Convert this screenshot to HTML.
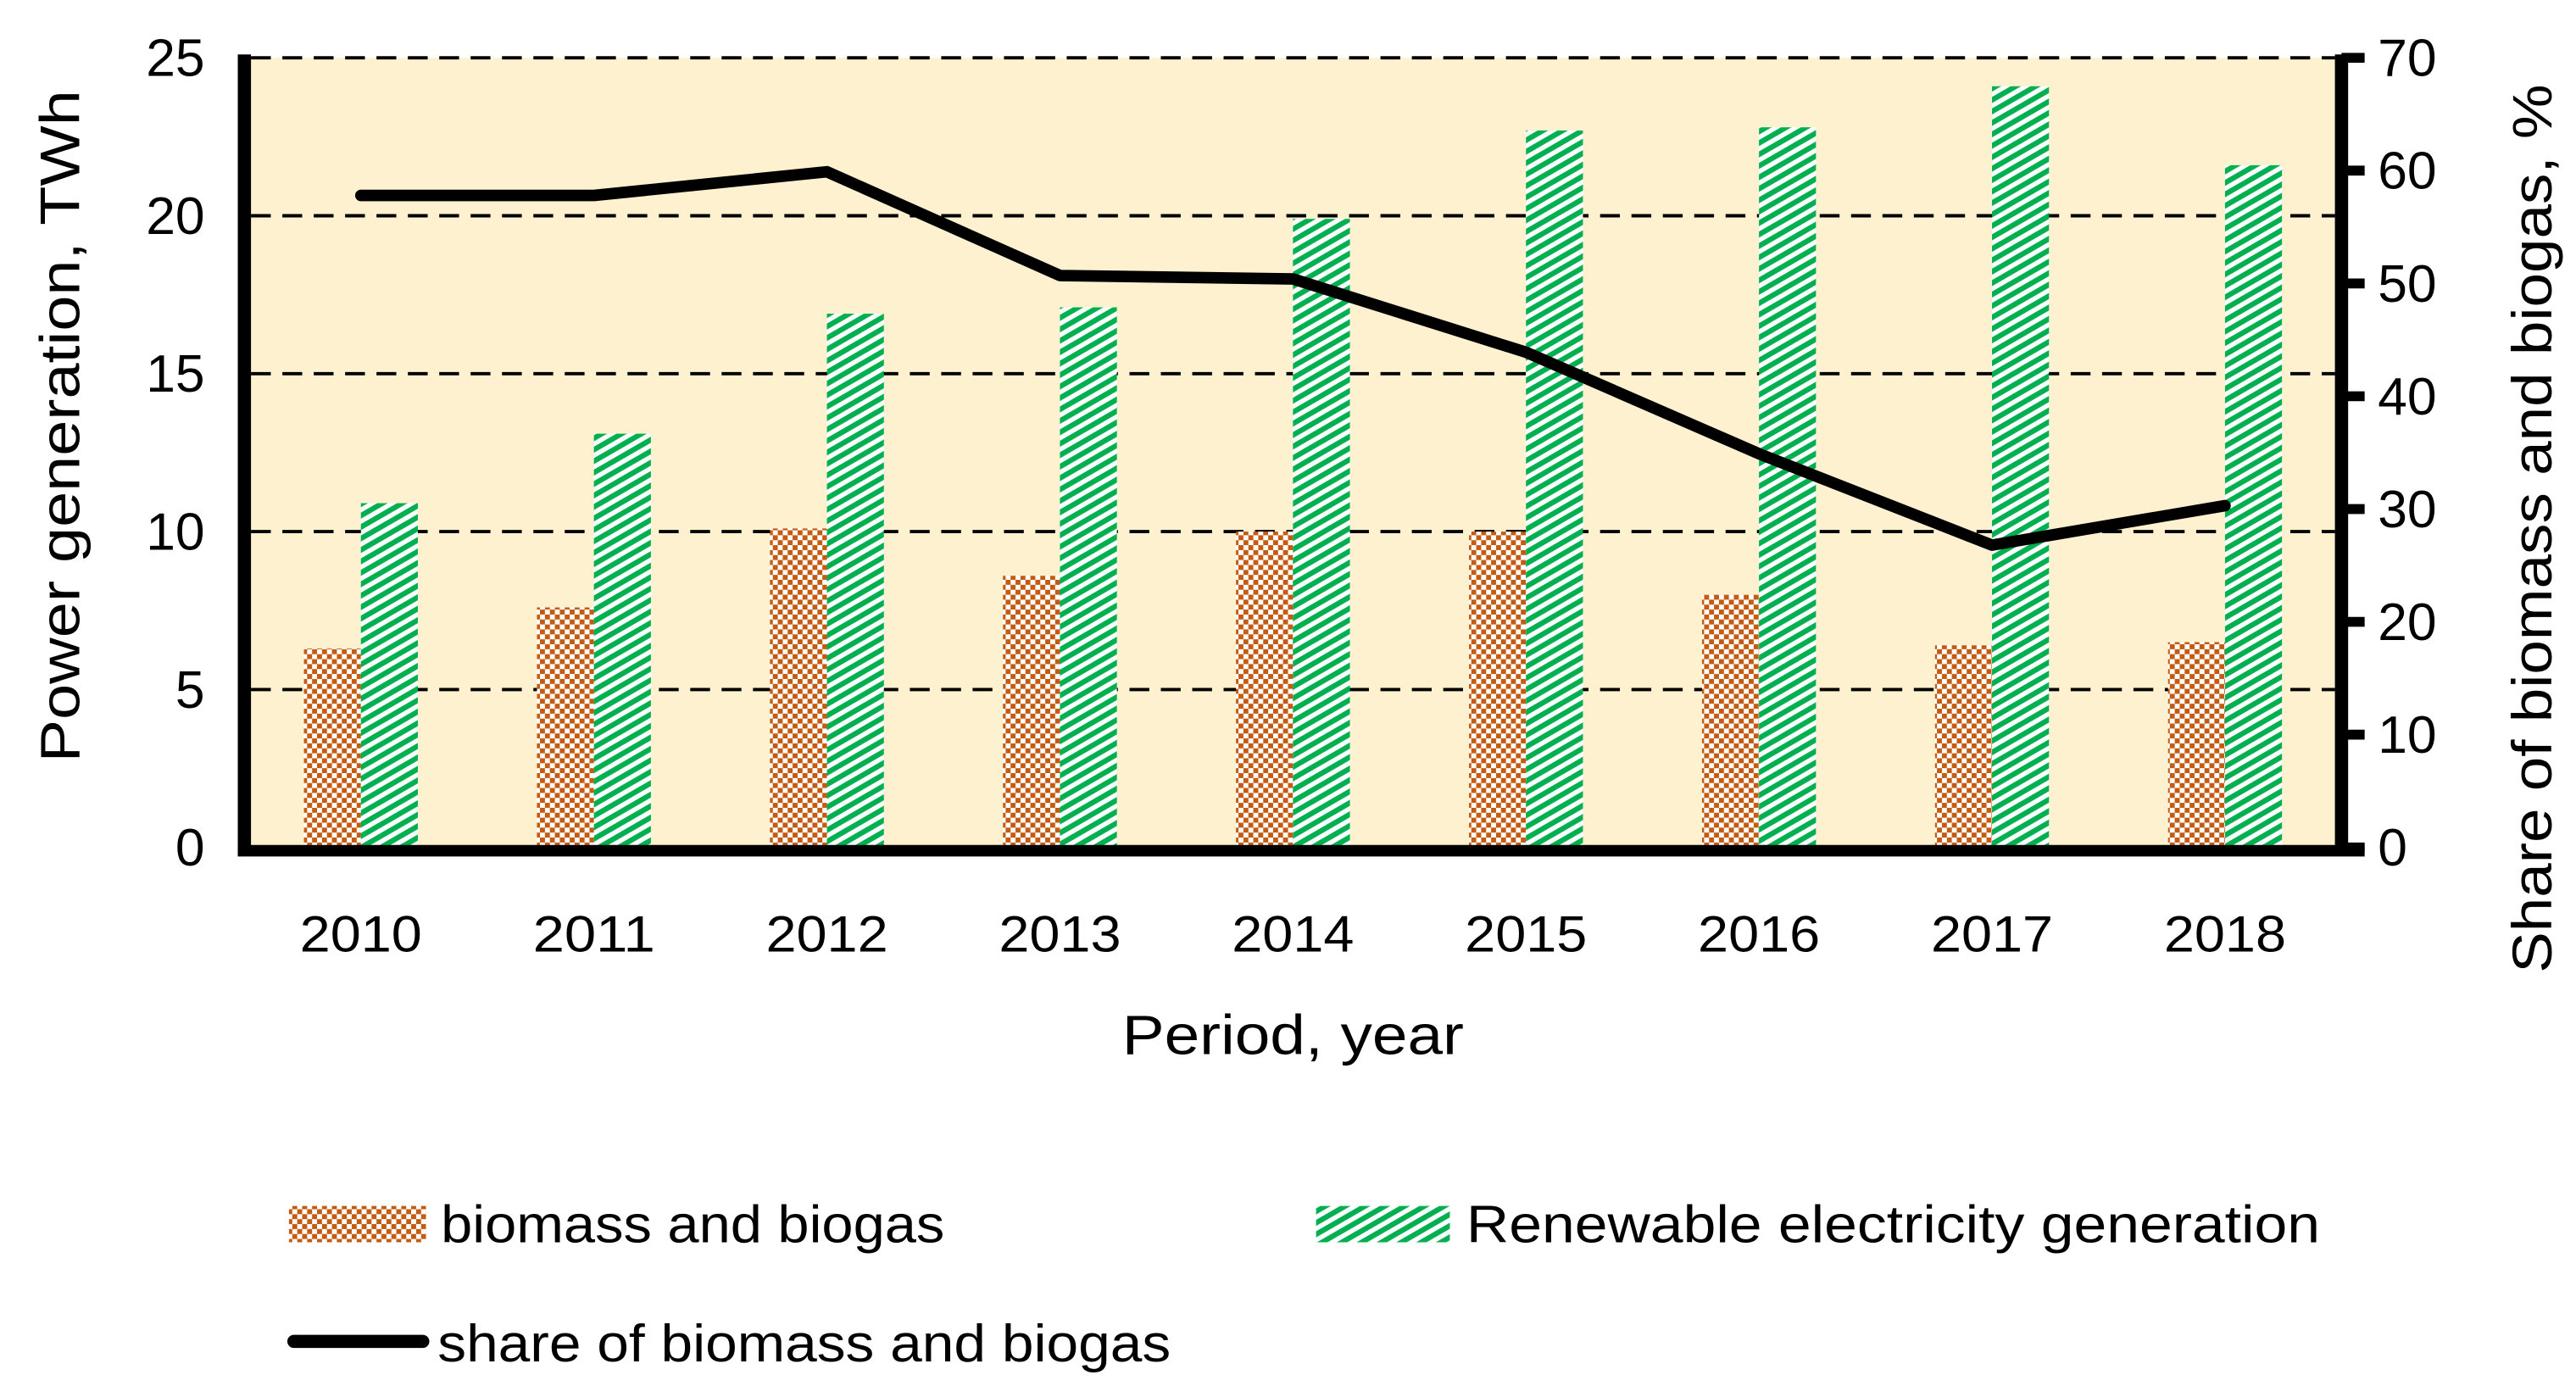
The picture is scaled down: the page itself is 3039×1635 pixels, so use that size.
<!DOCTYPE html>
<html><head><meta charset="utf-8"><style>
html,body{margin:0;padding:0;background:#fff}
svg{display:block}
text{font-family:"Liberation Sans",sans-serif;fill:#000}
</style></head><body>
<svg id="chart" width="3039" height="1635" viewBox="0 0 1560 839" preserveAspectRatio="none" xmlns="http://www.w3.org/2000/svg">
<defs>
<pattern id="chk" patternUnits="userSpaceOnUse" width="6" height="6">
<rect width="6" height="6" fill="#fff"/><rect width="3" height="3" fill="#c55a11"/><rect x="3" y="3" width="3" height="3" fill="#c55a11"/>
</pattern>
<pattern id="diag" patternUnits="userSpaceOnUse" width="6" height="6" patternTransform="rotate(-30)">
<rect width="6" height="6" fill="#fff"/><rect width="6" height="3.2" fill="#00b050"/>
</pattern>
</defs>
<rect x="152" y="35" width="1262" height="478" fill="#fef1cf"/>
<g id="grid"></g>
<g id="bars"></g>
<g id="line"></g>
<g id="axes"></g>
<text transform="translate(48,258) rotate(-90)" text-anchor="middle" font-size="34" textLength="407" lengthAdjust="spacingAndGlyphs">Power generation, TWh</text>
<text transform="translate(1545,320) rotate(-90)" text-anchor="middle" font-size="34" textLength="538" lengthAdjust="spacingAndGlyphs">Share of biomass and biogas, %</text>
<text x="783" y="638" text-anchor="middle" font-size="34" textLength="207" lengthAdjust="spacingAndGlyphs">Period, year</text>
<rect x="175" y="730" width="83" height="22" fill="url(#chk)"/>
<text x="267" y="752" font-size="32" textLength="305" lengthAdjust="spacingAndGlyphs">biomass and biogas</text>
<rect x="797" y="730" width="81" height="22" fill="url(#diag)"/>
<text x="888" y="752" font-size="32" textLength="517" lengthAdjust="spacingAndGlyphs">Renewable electricity generation</text>
<line x1="178" y1="812" x2="256" y2="812" stroke="#000" stroke-width="8" stroke-linecap="round"/>
<text x="265" y="824" font-size="32" textLength="444" lengthAdjust="spacingAndGlyphs">share of biomass and biogas</text>
</svg>
<script>
const categories = ["2010","2011","2012","2013","2014","2015","2016","2017","2018"];
const biomass = [6.3, 7.6, 10.1, 8.6, 10.0, 10.0, 8.0, 6.4, 6.5];
const renewable = [10.9, 13.1, 16.9, 17.1, 19.9, 22.7, 22.8, 24.1, 21.6];
const share = [57.8, 57.8, 59.9, 50.7, 50.4, 43.9, 34.9, 26.8, 30.3];
const leftTicks = [0, 5, 10, 15, 20, 25];
const rightTicks = [0, 10, 20, 30, 40, 50, 60, 70];

const NS = "http://www.w3.org/2000/svg";
const X0 = 148, X1 = 1418, Y0 = 513, Y1 = 35;
const yL = v => Y0 - (v / 25) * (Y0 - Y1);
const yR = v => Y0 - (v / 70) * (Y0 - Y1);
const step = (X1 - X0) / categories.length;
const xC = i => X0 + step * (i + 0.5);
const BW = 34.5;
function mk(tag, attrs, parent) {
  const e = document.createElementNS(NS, tag);
  for (const k in attrs) e.setAttribute(k, attrs[k]);
  parent.appendChild(e);
  return e;
}
const grid = document.getElementById('grid');
const bars = document.getElementById('bars');
const line = document.getElementById('line');
const axes = document.getElementById('axes');

leftTicks.forEach(t => {
  if (t > 0) {
    const g = mk('line', {x1: 152, x2: 1414, y1: yL(t), y2: yL(t), stroke: '#000', 'stroke-width': 2, 'stroke-dasharray': '12 7'}, grid);
    
    
  }
  const tx = mk('text', {x: 124, y: yL(t) + 11, 'text-anchor': 'end', 'font-size': 32}, axes);
  tx.textContent = t;
  
  
});
rightTicks.forEach(t => {
  const tk = mk('line', {x1: 1418, x2: 1432, y1: yR(t), y2: yR(t), stroke: '#000', 'stroke-width': 6}, axes);
  
  
  const tx = mk('text', {x: 1440, y: yR(t) + 11, 'font-size': 32}, axes);
  tx.textContent = t;
  
  
});
categories.forEach((c, i) => {
  const b1 = mk('rect', {x: xC(i) - BW, y: yL(biomass[i]), width: BW, height: Y0 - yL(biomass[i]), fill: 'url(#chk)'}, bars);
  
  
  const b2 = mk('rect', {x: xC(i), y: yL(renewable[i]), width: BW, height: Y0 - yL(renewable[i]), fill: 'url(#diag)'}, bars);
  
  
  const tx = mk('text', {x: xC(i), y: 576, 'text-anchor': 'middle', 'font-size': 31, textLength: 74, lengthAdjust: 'spacingAndGlyphs'}, axes);
  tx.textContent = c;
  
  
});
const pts = share.map((v, i) => xC(i) + ',' + yR(v)).join(' ');
const pl = mk('polyline', {points: pts, fill: 'none', stroke: '#000', 'stroke-width': 7, 'stroke-linejoin': 'round', 'stroke-linecap': 'round'}, line);


const la = mk('line', {x1: 148, x2: 148, y1: 33, y2: 517, stroke: '#000', 'stroke-width': 8}, axes);


const ra = mk('line', {x1: 1418, x2: 1418, y1: 33, y2: 517, stroke: '#000', 'stroke-width': 8}, axes);


const xa = mk('line', {x1: 144, x2: 1432, y1: 515, y2: 515, stroke: '#000', 'stroke-width': 7}, axes);


</script>
</body></html>
